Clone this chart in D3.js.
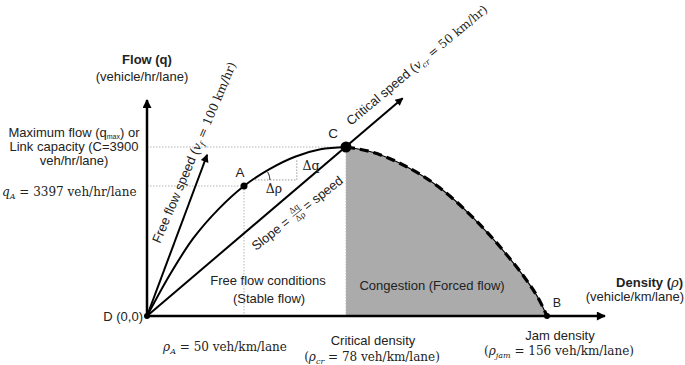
<!DOCTYPE html>
<html>
<head>
<meta charset="utf-8">
<script src="https://cdn.jsdelivr.net/npm/d3@7"></script>
<style>
  body { margin: 0; background: #fff; }
  text { font-family: "Liberation Sans", Arial, sans-serif; fill: #222; }
  .math { font-family: "DejaVu Serif", "Liberation Serif", serif; }
</style>
</head>
<body>
<div id="chart"></div>
<script>
// key densities (veh/km/lane): D, A, critical, jam
var densityKeys = [0, 50, 78, 156];
// key flows (veh/hr/lane): D, A, capacity
var flowKeys = [0, 3397, 3900];

// flow-density curve [density, flow]
var freeBranch = [[0, 0], [12, 1100], [24, 2040], [37, 2800], [50, 3397],
                  [57, 3615], [64, 3775], [71, 3870], [78, 3900]];
var congestedBranch = [[78, 3900], [88, 3835], [101, 3655], [114, 3370], [127, 2590],
                       [140.5, 1590], [148, 940], [153, 420], [156, 0]];

// labelled points
var points = [
  {name: "D", rho: 0, q: 0, r: 3},
  {name: "A", rho: 50, q: 3397, r: 3.5},
  {name: "C", rho: 78, q: 3900, r: 5.5},
  {name: "B", rho: 156, q: 0, r: 3}
];

// speed rays from the origin [density, flow]
var freeFlowRay = [[0, 0], [31, 3800]];
var criticalRay = [[0, 0], [100, 4530]];

// small delta triangle on the free flow branch
var deltaTri = [[53, 3475], [64.5, 3475], [64.5, 3730]];

var width = 685, height = 365;
var axisTop = 100, axisRight = 605;

var svg = d3.select("#chart").append("svg")
  .attr("width", width)
  .attr("height", height);

// schematic (piecewise) scales: the sketch is not drawn to scale
var x = d3.scaleLinear().domain(densityKeys).range([147, 244, 346, 547]);
var y = d3.scaleLinear().domain(flowKeys).range([316, 186, 147]);

// arrow heads
var defs = svg.append("defs");
function marker(id, w, h) {
  defs.append("marker")
    .attr("id", id)
    .attr("viewBox", "0 0 10 10")
    .attr("refX", 9).attr("refY", 5)
    .attr("markerUnits", "userSpaceOnUse")
    .attr("markerWidth", w).attr("markerHeight", h)
    .attr("orient", "auto")
    .append("path")
    .attr("d", "M0,0 L10,5 L0,10 Z")
    .attr("fill", "#000");
}
marker("axisHead", 12, 9);
marker("rayHead", 11, 8);

// gray congestion area
var area = d3.area()
  .x(function(d) { return x(d[0]); })
  .y0(y(0))
  .y1(function(d) { return y(d[1]); })
  .curve(d3.curveMonotoneX);
svg.append("path")
  .datum(congestedBranch)
  .attr("d", area)
  .attr("fill", "#ababab");

// dotted guides
var guides = [
  [[0, 3900], [78, 3900]],
  [[0, 3397], [50, 3397]],
  [[50, 3397], [50, 0]],
  [[78, 3900], [78, 0]]
];
var guideLine = d3.line()
  .x(function(d) { return x(d[0]); })
  .y(function(d) { return y(d[1]); });
svg.selectAll(".guide")
  .data(guides)
  .enter().append("path")
  .attr("class", "guide")
  .attr("d", guideLine)
  .attr("fill", "none")
  .attr("stroke", "#b5b5b5")
  .attr("stroke-width", 1)
  .attr("stroke-dasharray", "1.5,1.5");

// delta triangle
svg.append("path")
  .datum(deltaTri)
  .attr("d", guideLine)
  .attr("fill", "none")
  .attr("stroke", "#999")
  .attr("stroke-width", 1)
  .attr("stroke-dasharray", "1.5,1.5");
var arcCx = x(deltaTri[0][0]), arcCy = y(deltaTri[0][1]);
svg.append("path")
  .attr("d", d3.arc()({innerRadius: 15, outerRadius: 15,
                       startAngle: Math.PI / 2 - 0.55, endAngle: Math.PI / 2}))
  .attr("transform", "translate(" + arcCx + "," + arcCy + ")")
  .attr("fill", "none")
  .attr("stroke", "#444")
  .attr("stroke-width", 0.8);

// axes
svg.append("line")
  .attr("x1", x(0)).attr("y1", y(0))
  .attr("x2", x(0)).attr("y2", axisTop)
  .attr("stroke", "#000").attr("stroke-width", 2.5)
  .attr("marker-end", "url(#axisHead)");
svg.append("line")
  .attr("x1", x(0)).attr("y1", y(0))
  .attr("x2", axisRight).attr("y2", y(0))
  .attr("stroke", "#000").attr("stroke-width", 2.5)
  .attr("marker-end", "url(#axisHead)");

// speed rays
svg.selectAll(".ray")
  .data([freeFlowRay, criticalRay])
  .enter().append("path")
  .attr("class", "ray")
  .attr("d", guideLine)
  .attr("fill", "none")
  .attr("stroke", "#000")
  .attr("stroke-width", 2)
  .attr("marker-end", "url(#rayHead)");

// flow-density curve
var curve = d3.line()
  .x(function(d) { return x(d[0]); })
  .y(function(d) { return y(d[1]); })
  .curve(d3.curveCatmullRom);
var curveCong = d3.line()
  .x(function(d) { return x(d[0]); })
  .y(function(d) { return y(d[1]); })
  .curve(d3.curveMonotoneX);
svg.append("path")
  .datum(freeBranch)
  .attr("d", curve)
  .attr("fill", "none")
  .attr("stroke", "#000")
  .attr("stroke-width", 2);
svg.append("path")
  .datum(congestedBranch)
  .attr("d", curveCong)
  .attr("fill", "none")
  .attr("stroke", "#000")
  .attr("stroke-width", 1.2);
svg.append("path")
  .datum(congestedBranch)
  .attr("d", curveCong)
  .attr("fill", "none")
  .attr("stroke", "#000")
  .attr("stroke-width", 3.2)
  .attr("stroke-dasharray", "9,5");

// points
svg.selectAll(".pt")
  .data(points)
  .enter().append("circle")
  .attr("class", "pt")
  .attr("cx", function(d) { return x(d.rho); })
  .attr("cy", function(d) { return y(d.q); })
  .attr("r", function(d) { return d.r; })
  .attr("fill", "#000");

// ---- labels ----
function label(px, py, anchor, size) {
  return svg.append("text")
    .attr("x", px).attr("y", py)
    .attr("text-anchor", anchor || "start")
    .attr("font-size", size || 13);
}
function mathSub(t, v, s) {
  t.append("tspan").attr("font-style", "italic").text(v);
  t.append("tspan").attr("font-style", "italic").attr("font-size", 8).attr("dy", 3).text(s);
  return t;
}

label(147, 64, "middle", 13).attr("font-weight", "bold").text("Flow (q)");
label(142, 81, "middle").text("(vehicle/hr/lane)");

var dens = label(683, 287, "end", 13).attr("font-weight", "bold").text("Density (");
dens.append("tspan").attr("class", "math").attr("font-style", "italic").attr("font-weight", "normal").text("ρ");
dens.append("tspan").text(")");
label(684, 301, "end").text("(vehicle/km/lane)");

var mx = label(74, 137, "middle").text("Maximum flow (q");
mx.append("tspan").attr("font-size", 7).attr("dy", 1.5).text("max");
mx.append("tspan").attr("dy", -1.5).text(") or");
label(74, 151, "middle").text("Link capacity (C=3900");
label(74, 165, "middle").text("veh/hr/lane)");

var qa = mathSub(label(2, 196, "start", 12).attr("class", "math"), "q", "A");
qa.append("tspan").attr("dy", -3).text(" = " + flowKeys[1] + " veh/hr/lane");

label(143, 321, "end").text("D (0,0)");
label(x(50) - 4, y(3397) - 9, "middle", 13.5).text("A");
label(x(78) - 13, y(3900) - 9, "middle", 13.5).text("C");
label(557, 307, "middle", 12.5).text("B");

var ra = mathSub(label(225, 351, "middle", 12).attr("class", "math"), "ρ", "A");
ra.append("tspan").attr("dy", -3).text(" = " + densityKeys[1] + " veh/km/lane");

label(373, 345, "middle").text("Critical density");
var rc = label(372, 361, "middle", 12).attr("class", "math");
rc.append("tspan").text("(");
mathSub(rc, "ρ", "cr");
rc.append("tspan").attr("dy", -3).text(" = " + densityKeys[2] + " veh/km/lane)");

label(560, 340, "middle").text("Jam density");
var rj = label(559, 355, "middle", 12).attr("class", "math");
rj.append("tspan").text("(");
mathSub(rj, "ρ", "jam");
rj.append("tspan").attr("dy", -3).text(" = " + densityKeys[3] + " veh/km/lane)");

label(268, 285, "middle").text("Free flow conditions");
label(269, 303, "middle").text("(Stable flow)");
label(432, 290, "middle").text("Congestion (Forced flow)");

label(274, 193, "middle", 12.5).attr("class", "math").text("Δρ");
label(311, 170, "middle", 12.5).attr("class", "math").text("Δq");

// rotated speed labels
var ff = svg.append("text")
  .attr("transform", "translate(160,244) rotate(-67)")
  .attr("font-size", 13);
ff.append("tspan").text("Free flow speed (");
mathSub(ff.append("tspan").attr("class", "math").attr("font-size", 12), "v", "f");
ff.append("tspan").attr("class", "math").attr("font-size", 12).attr("dy", -3).text(" = 100 km/hr)");

var cs = svg.append("text")
  .attr("transform", "translate(351,126) rotate(-40)")
  .attr("font-size", 13);
cs.append("tspan").text("Critical speed (");
mathSub(cs.append("tspan").attr("class", "math").attr("font-size", 12), "v", "cr");
cs.append("tspan").attr("class", "math").attr("font-size", 12).attr("dy", -3).text(" = 50 km/hr)");

var sl = svg.append("g")
  .attr("transform", "translate(256,251) rotate(-38)");
sl.append("text").attr("font-size", 13).text("Slope =");
var fracX = 56;
sl.append("text").attr("class", "math").attr("x", fracX).attr("y", -7)
  .attr("font-size", 8).attr("text-anchor", "middle").text("Δq");
sl.append("line").attr("x1", fracX - 6).attr("x2", fracX + 6)
  .attr("y1", -4.5).attr("y2", -4.5).attr("stroke", "#222").attr("stroke-width", 0.7);
sl.append("text").attr("class", "math").attr("x", fracX).attr("y", 3)
  .attr("font-size", 8).attr("text-anchor", "middle").text("Δρ");
sl.append("text").attr("x", fracX + 9).attr("font-size", 13).text("= speed");
</script>
</body>
</html>
